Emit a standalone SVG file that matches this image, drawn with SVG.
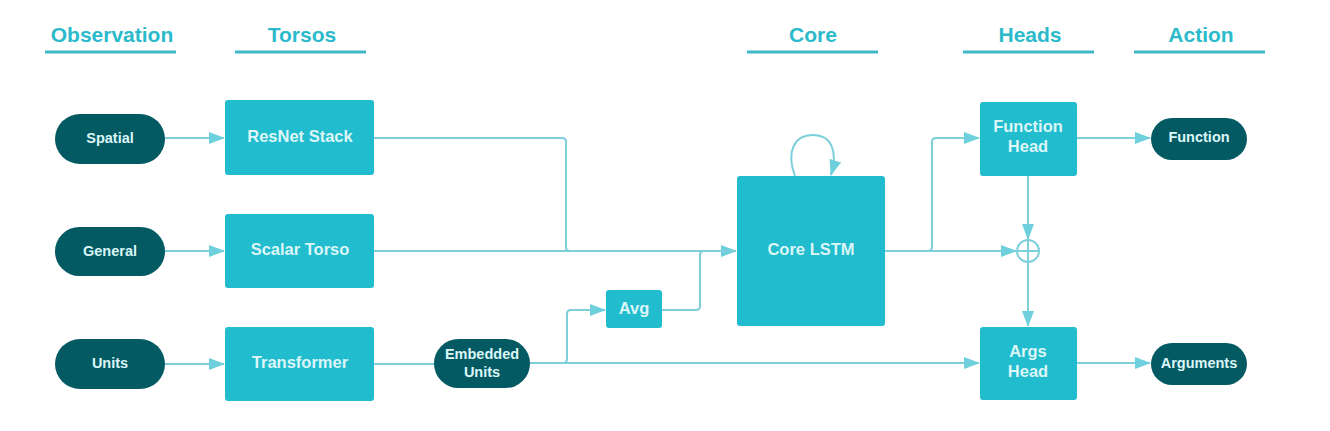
<svg xmlns="http://www.w3.org/2000/svg" width="1330" height="431" viewBox="0 0 1330 431">
<defs>
<marker id="ah" markerWidth="16" markerHeight="12" refX="15" refY="6" orient="auto" markerUnits="userSpaceOnUse">
<path d="M0,0 L16,6 L0,12 Z" fill="#6ed0dc"/>
</marker>
<style>
.hdr{font-family:"Liberation Sans",Arial,sans-serif;font-weight:bold;font-size:21px;fill:#2bbacb;text-anchor:middle}
.ul{stroke:#3fb9c8;stroke-width:3}
.box{fill:#21bccd}
.pill{fill:#035a63}
.bt{font-family:"Liberation Sans",Arial,sans-serif;font-weight:bold;font-size:16.5px;fill:#dcf6f8;text-anchor:middle}
.pt{font-family:"Liberation Sans",Arial,sans-serif;font-weight:bold;font-size:14.5px;fill:#dcf6f8;text-anchor:middle}
.c{fill:none;stroke:#7dd0da;stroke-width:2;stroke-linejoin:round}
</style>
</defs>
<rect width="1330" height="431" fill="#ffffff"/>
<g id="headers">
<text class="hdr" x="112" y="42">Observation</text><line class="ul" x1="45" y1="52" x2="176" y2="52"/>
<text class="hdr" x="302" y="42">Torsos</text><line class="ul" x1="235" y1="52" x2="366" y2="52"/>
<text class="hdr" x="813" y="42">Core</text><line class="ul" x1="747" y1="52" x2="878" y2="52"/>
<text class="hdr" x="1030" y="42">Heads</text><line class="ul" x1="963" y1="52" x2="1094" y2="52"/>
<text class="hdr" x="1201" y="42">Action</text><line class="ul" x1="1134" y1="52" x2="1265" y2="52"/>
</g>
<g id="connectors">
<path class="c" d="M165,138 H224" marker-end="url(#ah)"/>
<path class="c" d="M165,251 H224" marker-end="url(#ah)"/>
<path class="c" d="M165,364 H224" marker-end="url(#ah)"/>
<path class="c" d="M374,138 H562 Q566,138 566,142 V247 Q566,251 570,251 H736" marker-end="url(#ah)"/>
<path class="c" d="M374,251 H736"/>
<path class="c" d="M374,364 H435"/>
<path class="c" d="M530,363 H563 Q567,363 567,359 V314 Q567,310 571,310 H605" marker-end="url(#ah)"/>
<path class="c" d="M530,363 H979" marker-end="url(#ah)"/>
<path class="c" d="M662,310 H696 Q700,310 700,306 V255 Q700,251 704,251 H736"/>
<path class="c" d="M885,251 H928 Q932,251 932,247 V142 Q932,138 936,138 H979" marker-end="url(#ah)"/>
<path class="c" d="M885,251 H1016" marker-end="url(#ah)"/>
<path class="c" d="M1028,176 V239" marker-end="url(#ah)"/>
<path class="c" d="M1028,263 V326" marker-end="url(#ah)"/>
<path class="c" d="M1077,138 H1150" marker-end="url(#ah)"/>
<path class="c" d="M1077,363 H1150" marker-end="url(#ah)"/>
<path class="c" d="M795,176 C786,152 794,135 813,135 C832,135 838,152 831,175" marker-end="url(#ah)"/>
</g>
<g id="spatial"><rect class="pill" x="55" y="114" width="110" height="50" rx="25"/><text class="pt" x="110" y="143">Spatial</text></g>
<g id="general"><rect class="pill" x="55" y="227" width="110" height="49" rx="24.5"/><text class="pt" x="110" y="256">General</text></g>
<g id="units"><rect class="pill" x="55" y="339" width="110" height="50" rx="25"/><text class="pt" x="110" y="368">Units</text></g>
<g id="resnet"><rect class="box" x="225" y="100" width="149" height="75" rx="3"/><text class="bt" x="300" y="142">ResNet Stack</text></g>
<g id="scalar"><rect class="box" x="225" y="214" width="149" height="74" rx="3"/><text class="bt" x="300" y="255">Scalar Torso</text></g>
<g id="transformer"><rect class="box" x="225" y="327" width="149" height="74" rx="3"/><text class="bt" x="300" y="368">Transformer</text></g>
<g id="embedded"><rect class="pill" x="434" y="339" width="96" height="49" rx="24.5"/><text class="pt" x="482" y="359">Embedded</text><text class="pt" x="482" y="377">Units</text></g>
<g id="avg"><rect class="box" x="606" y="290" width="56" height="38" rx="3"/><text class="bt" x="634" y="314">Avg</text></g>
<g id="core"><rect class="box" x="737" y="176" width="148" height="150" rx="3"/><text class="bt" x="811" y="255">Core LSTM</text></g>
<g id="funchead"><rect class="box" x="980" y="102" width="97" height="74" rx="3"/><text class="bt" x="1028" y="132">Function</text><text class="bt" x="1028" y="152">Head</text></g>
<g id="argshead"><rect class="box" x="980" y="327" width="97" height="73" rx="3"/><text class="bt" x="1028" y="357">Args</text><text class="bt" x="1028" y="377">Head</text></g>
<g id="plus"><circle cx="1028" cy="251" r="11" fill="#ffffff" stroke="#7dd0da" stroke-width="2"/><path d="M1017,251 H1039 M1028,240 V262" stroke="#7dd0da" stroke-width="2"/></g>
<g id="function"><rect class="pill" x="1151" y="118" width="96" height="42" rx="21"/><text class="pt" x="1199" y="142">Function</text></g>
<g id="arguments"><rect class="pill" x="1151" y="343" width="96" height="42" rx="21"/><text class="pt" x="1199" y="368">Arguments</text></g>
</svg>
